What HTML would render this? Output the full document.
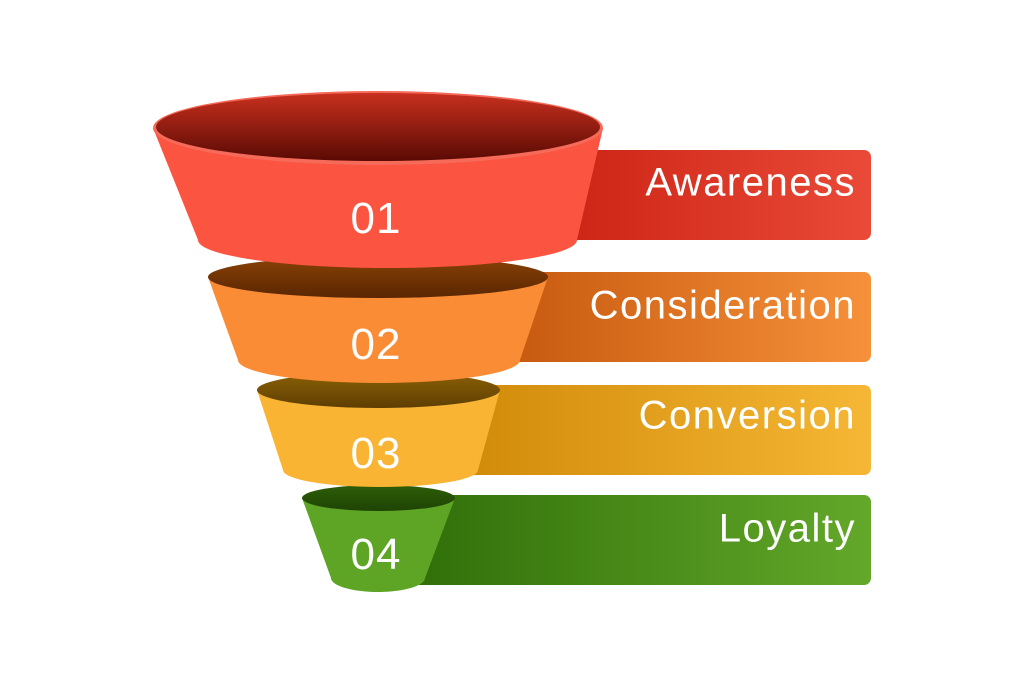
<!DOCTYPE html>
<html><head><meta charset="utf-8"><style>
html,body{margin:0;padding:0;background:#fff;width:1024px;height:683px;overflow:hidden}
</style></head><body>
<svg width="1024" height="683" viewBox="0 0 1024 683" xmlns="http://www.w3.org/2000/svg">
<defs>
<linearGradient id="b1" x1="0" x2="1"><stop offset="0" stop-color="#c81e10"/><stop offset="1" stop-color="#ea4a38"/></linearGradient>
<linearGradient id="b2" x1="0" x2="1"><stop offset="0" stop-color="#c4560c"/><stop offset="1" stop-color="#f6913a"/></linearGradient>
<linearGradient id="b3" x1="0" x2="1"><stop offset="0" stop-color="#d08a08"/><stop offset="1" stop-color="#f5b735"/></linearGradient>
<linearGradient id="b4" x1="0" x2="1"><stop offset="0" stop-color="#2f6d08"/><stop offset="1" stop-color="#63a82a"/></linearGradient>
<linearGradient id="i1" x1="0" y1="0" x2="0" y2="1"><stop offset="0" stop-color="#c8301e"/><stop offset="1" stop-color="#5a0a04"/></linearGradient>
<linearGradient id="i2" x1="0" y1="0" x2="0" y2="1"><stop offset="0" stop-color="#8a4206"/><stop offset="1" stop-color="#5a2602"/></linearGradient>
<linearGradient id="i3" x1="0" y1="0" x2="0" y2="1"><stop offset="0" stop-color="#8c6206"/><stop offset="1" stop-color="#5e3e02"/></linearGradient>
<linearGradient id="i4" x1="0" y1="0" x2="0" y2="1"><stop offset="0" stop-color="#2e5e08"/><stop offset="1" stop-color="#1e4404"/></linearGradient>
</defs>
<g font-family="Liberation Sans, sans-serif" font-size="40" fill="#fff" text-anchor="end" letter-spacing="1.5">
<rect x="520" y="150" width="351" height="90" rx="7" fill="url(#b1)"/>
<text x="856" y="185" fill="#fff" dominant-baseline="middle">Awareness</text>
<rect x="490" y="272" width="381" height="90" rx="7" fill="url(#b2)"/>
<text x="856" y="308" fill="#fff" dominant-baseline="middle">Consideration</text>
<rect x="460" y="385" width="411" height="90" rx="7" fill="url(#b3)"/>
<text x="856" y="418" fill="#fff" dominant-baseline="middle">Conversion</text>
<rect x="400" y="495" width="471" height="90" rx="7" fill="url(#b4)"/>
<text x="856" y="531" fill="#fff" dominant-baseline="middle">Loyalty</text>
</g>
<path d="M302 498 L331 578 A47 14 0 0 0 425 578 L455 498 Z" fill="#5ea526"/>
<ellipse cx="378.5" cy="498" rx="76.5" ry="13" fill="url(#i4)"/>
<path d="M257 390 L283 470 A97.5 17 0 0 0 478 470 L500 390 Z" fill="#f8b432"/>
<ellipse cx="378.5" cy="390" rx="121.5" ry="18" fill="url(#i3)"/>
<path d="M208 277 L238 360 A141 23 0 0 0 520 360 L548 277 Z" fill="#fa8c36"/>
<ellipse cx="378" cy="277" rx="170" ry="21" fill="url(#i2)"/>
<path d="M153 128 L198 240 A189.5 28 0 0 0 577 240 L603 128 Z" fill="#fb5440"/>
<ellipse cx="378" cy="128" rx="225" ry="37" fill="#f56a58"/>
<ellipse cx="378" cy="127" rx="222" ry="34" fill="url(#i1)"/>
<g font-family="Liberation Sans, sans-serif" font-size="44" fill="#fff" text-anchor="middle" letter-spacing="1">
<text x="376" y="233">01</text>
<text x="376" y="359">02</text>
<text x="376" y="468">03</text>
<text x="376" y="569">04</text>
</g>
</svg>
</body></html>
